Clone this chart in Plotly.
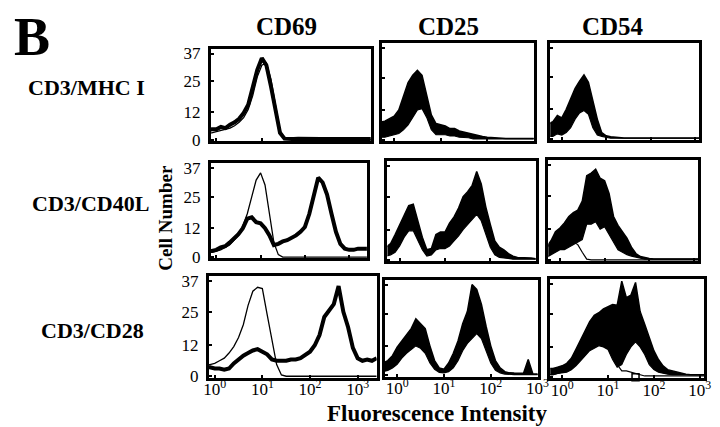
import plotly.graph_objects as go

# log10 fluorescence bins (decades)
BINS = [-0.3, -0.2, -0.1, 0.0, 0.1, 0.2, 0.3, 0.4, 0.5, 0.6, 0.7, 0.8, 0.9,
        1.0, 1.1, 1.2, 1.3, 1.4, 1.5, 1.6, 1.7, 1.8, 1.9, 2.0, 2.1, 2.2,
        2.3, 2.4, 2.5, 2.6, 2.7, 2.8, 2.9, 3.0, 3.1, 3.2, 3.3, 3.4]

COLUMNS = ["CD69", "CD25", "CD54"]
ROWS = ["CD3/MHC I", "CD3/CD40L", "CD3/CD28"]
Y_TICKS = [0, 12, 25, 37]
X_TICKS = ["10<sup>0</sup>", "10<sup>1</sup>", "10<sup>2</sup>", "10<sup>3</sup>"]

# ---- CD69 column: stimulated (thick) and control (thin) ----
CD69_MHC_STIM = [4, 4, 4.5, 4.5, 5.5, 5, 6.5, 7.5, 9, 11.5, 15, 22, 30, 35, 32, 23, 12, 3, 0.5,
                 0.3, 0.3, 0.4, 0.3, 0.3, 0.3, 0.4, 0.3, 0.3, 0.3, 0.3, 0.3, 0.3, 0.3, 0.3, 0.3, 0.3, 0.3, 0.3]
CD69_MHC_CTRL = [3, 3, 3, 3.5, 4, 4.5, 5, 6, 7.5, 9.5, 13, 19, 27, 32, 33, 26, 14, 4, 0.5,
                 0.2, 0.2, 0.2, 0.2, 0.2, 0.2, 0.2, 0.2, 0.2, 0.2, 0.2, 0.2, 0.2, 0.2, 0.2, 0.2, 0.2, 0.2, 0.2]
CD69_CD40L_STIM = [2, 2.5, 2.5, 3, 4, 4.5, 6, 7.5, 9.5, 12, 16, 16.5, 14.5, 14, 12, 9, 5, 5.5, 6.5,
                   7, 8, 9, 10.5, 12.5, 18, 26, 33, 31, 26, 18, 10.5, 5.5, 3.5, 3, 3, 3.5, 3.5, 3.5]
CD69_CD40L_CTRL = [2, 2, 2, 2.5, 3, 4, 5, 7, 9, 13, 18, 25, 32, 35, 30, 18, 6, 1, 0,
                   0, 0, 0, 0, 0, 0, 0, 0, 0, 0, 0, 0, 0, 0, 0, 0, 0, 0, 0]
CD69_CD28_STIM = [3.5, 3.5, 3.5, 3, 3, 2.5, 3, 5, 6.5, 8, 9, 10, 10.5, 9.5, 8.5, 6.5, 6, 6, 6,
                  6.5, 6.5, 7, 8.5, 9.5, 12, 16, 23, 25.5, 28, 35, 25, 19, 11, 7, 6, 6.5, 6, 7]
CD69_CD28_CTRL = [4, 4.5, 4.5, 5, 6, 7, 9, 11.5, 15, 20, 27.5, 33, 34.5, 34, 24, 14, 4.5, 0.5, 0,
                  0, 0, 0, 0, 0, 0, 0, 0, 0, 0, 0, 0, 0, 0, 0, 0, 0, 0, 0]

# ---- CD25 / CD54 columns: stimulated histograms drawn as noisy bands (upper / lower envelope) ----
CD25_MHC_HI = [7, 7.5, 8.5, 9.5, 12, 18, 23, 26, 28, 26, 18, 10, 6.5, 6, 5.5, 4.5, 4.5, 3.5, 3,
               2.5, 2, 1.5, 1.3, 1, 0.8, 0.6, 0.5, 0.5, 0.5, 0.5, 0.5, 0.5, 0.5, 0.5, 0.5, 0.5, 0.5, 0.5]
CD25_MHC_LO = [1, 1, 1.5, 2, 2.5, 4, 6, 9, 12, 12.5, 9, 4, 2, 2, 2, 1.5, 1.5, 1, 1,
               0.8, 0.3, 0.3, 0.3, 0.3, 0.3, 0.3, 0.3, 0.3, 0.3, 0.3, 0.3, 0.3, 0.3, 0.3, 0.3, 0.3, 0.3, 0.3]
CD54_MHC_HI = [6, 7, 9.5, 8.5, 12, 16, 20.5, 23.5, 26, 23, 16, 8, 2.5, 1.2, 0.8, 0.6, 0.5, 0.3, 0.3,
               0.3, 0.3, 0.3, 0.3, 0.3, 0.3, 0.3, 0.3, 0.3, 0.3, 0.3, 0.3, 0.3, 0.3, 0.3, 0.3, 0.3, 0.3, 0.3]
CD54_MHC_LO = [1, 1, 2, 1.5, 2.5, 4.5, 8, 10.5, 11.5, 10, 4.5, 1.5, 1, 0.6, 0.2, 0.2, 0.2, 0.2, 0.2,
               0.2, 0.2, 0.2, 0.2, 0.2, 0.2, 0.2, 0.2, 0.2, 0.2, 0.2, 0.2, 0.2, 0.2, 0.2, 0.2, 0.2, 0.2, 0.2]

CD25_CD40L_HI = [5, 6.5, 10, 14, 18, 21.5, 22, 15, 9, 4, 4.5, 10, 11, 11, 14.5, 17, 20.5, 25, 27,
                 29.5, 35, 30, 21, 14, 7.5, 5, 4, 2.5, 1.5, 1, 1, 1, 0.8, 0.5, 0.5, 0.5, 0.5, 0.5]
CD25_CD40L_LO = [1.5, 2, 3, 5.5, 9, 11.5, 11.5, 8, 4, 1.5, 2, 4, 4.5, 4.5, 5.5, 7.5, 9.5, 12, 14,
                 16, 18, 15.5, 10, 5, 2, 1, 0.8, 0.5, 0.3, 0.3, 0.3, 0.3, 0.3, 0.3, 0.3, 0.3, 0.3, 0.3]
CD54_CD40L_HI = [5, 7.5, 11, 12.5, 14.5, 17, 18.5, 19.5, 23, 33, 34, 35.5, 32, 31, 26, 17, 13.5, 11, 8.5,
                 5, 2.5, 1.3, 0.8, 0.6, 0.4, 0.4, 0.4, 0.4, 0.4, 0.4, 0.4, 0.4, 0.4, 0.4, 0.4, 0.4, 0.4, 0.4]
CD54_CD40L_LO = [1, 2, 3, 4, 4, 5, 6, 7, 8, 14, 14, 15, 12, 13, 10, 7, 4, 3, 2,
                 1.5, 1, 0.6, 0.3, 0.3, 0.3, 0.3, 0.3, 0.3, 0.3, 0.3, 0.3, 0.3, 0.3, 0.3, 0.3, 0.3, 0.3, 0.3]
CD54_CD40L_CTRL = [5, 6, 7, 7.5, 8, 8, 7, 6, 3, 0.3, 0, 0, 0, 0, 0, 0, 0, 0, 0,
                   0, 0, 0, 0, 0, 0, 0, 0, 0, 0, 0, 0, 0, 0, 0, 0, 0, 0, 0]

CD25_CD28_HI = [5, 6, 8, 11.5, 14, 16.5, 19, 23, 21, 19, 12, 6, 3, 2.5, 5, 9, 14, 21, 26,
                37, 35, 29, 20, 12, 6, 3, 1.5, 1, 0.9, 0.8, 0.8, 6.5, 0.5, 0.5, 0.5, 0.5, 0.5, 0.5]
CD25_CD28_LO = [1.5, 2, 3, 4.5, 7, 9, 10.5, 12, 11, 9, 5, 2.5, 1.2, 1, 1.5, 3, 6, 10, 13,
                15, 17, 15, 10, 5, 2, 1, 0.5, 0.3, 0.3, 0.3, 0.3, 0.3, 0.3, 0.3, 0.3, 0.3, 0.3, 0.3]
CD54_CD28_HI = [3.5, 3.5, 4, 4.5, 5.5, 7.5, 11, 14.5, 18, 22, 24.5, 25.5, 27, 28, 28.8, 28.5, 38, 31.5, 32.5,
                37.5, 26, 21, 15.5, 10.5, 7, 4.5, 3, 2.5, 2, 1.5, 1.2, 1, 1, 1, 1, 1, 1, 1]
CD54_CD28_LO = [1, 1, 1.5, 1.8, 2, 3, 4.5, 6.5, 8.5, 10.5, 11.5, 12.5, 12, 11, 7, 4, 5, 9, 12,
                14, 12, 9, 5, 3, 2, 1.5, 1.2, 1, 1, 1, 1, 1, 1, 1, 1, 1, 1, 1]
CD54_CD28_CTRL = [1, 1, 1.5, 2, 2.5, 3.5, 5, 7, 9, 11, 13, 14.5, 15, 14, 11, 5, 2.5, 2.5, 2,
                  1.5, 0.8, 0.5, 0.5, 0.5, 0.5, 0.5, 0.5, 0.5, 0.5, 0.5, 0.5, 0.5, 0.5, 0.5, 0.5, 0.5, 0.5, 0.5]
CD54_CD28_GATE = [1.6]  # small open square marker on the baseline

# ---------------- layout geometry (pixels in a 720x427 canvas) ----------------
W, H = 720, 427
X_RANGES = {"CD69": [-0.12, 3.4], "CD25": [-0.27, 3.0], "CD54": [-0.26, 3.1]}
BOXES = {  # (left, right, top, bottom)
    (0, 0): (202, 366, 38, 133), (0, 1): (377, 533, 32, 133), (0, 2): (550, 703, 32, 132),
    (1, 0): (202, 362, 156, 254), (1, 1): (383, 535, 154, 257), (1, 2): (548, 702, 153, 257),
    (2, 0): (200, 372, 272, 377), (2, 1): (380, 537, 276, 376), (2, 2): (550, 708, 275, 378),
}

LINES = {
    (0, 0): ("line", CD69_MHC_STIM, CD69_MHC_CTRL),
    (1, 0): ("line", CD69_CD40L_STIM, CD69_CD40L_CTRL),
    (2, 0): ("line", CD69_CD28_STIM, CD69_CD28_CTRL),
    (0, 1): ("band", CD25_MHC_HI, CD25_MHC_LO, None),
    (1, 1): ("band", CD25_CD40L_HI, CD25_CD40L_LO, None),
    (2, 1): ("band", CD25_CD28_HI, CD25_CD28_LO, None),
    (0, 2): ("band", CD54_MHC_HI, CD54_MHC_LO, None),
    (1, 2): ("band", CD54_CD40L_HI, CD54_CD40L_LO, CD54_CD40L_CTRL),
    (2, 2): ("band", CD54_CD28_HI, CD54_CD28_LO, CD54_CD28_CTRL),
}

FONT = "Liberation Serif"
fig = go.Figure()
layout = dict(width=W, height=H, margin=dict(l=0, r=0, t=0, b=0),
              paper_bgcolor="white", plot_bgcolor="white", showlegend=False)

xs = [10 ** b for b in BINS]
n = 0
for r in range(3):
    for c in range(3):
        n += 1
        sfx = "" if n == 1 else str(n)
        xa, ya = "x" + sfx, "y" + sfx
        l, rr, t, b = BOXES[(r, c)]
        spec = LINES[(r, c)]
        if spec[0] == "line":
            fig.add_trace(go.Scatter(x=xs, y=spec[2], mode="lines", xaxis=xa, yaxis=ya,
                                     line=dict(color="black", width=1.3)))
            fig.add_trace(go.Scatter(x=xs, y=spec[1], mode="lines", xaxis=xa, yaxis=ya,
                                     line=dict(color="black", width=4)))
        else:
            fig.add_trace(go.Scatter(x=xs, y=spec[2], mode="lines", xaxis=xa, yaxis=ya,
                                     line=dict(color="black", width=1.2)))
            fig.add_trace(go.Scatter(x=xs, y=spec[1], mode="lines", xaxis=xa, yaxis=ya,
                                     fill="tonexty", fillcolor="black",
                                     line=dict(color="black", width=1.5)))
            if spec[3] is not None:
                fig.add_trace(go.Scatter(x=xs, y=spec[3], mode="lines", xaxis=xa, yaxis=ya,
                                         line=dict(color="black", width=1.2)))
        layout["xaxis" + sfx] = dict(
            type="log", range=X_RANGES[COLUMNS[c]], domain=[l / W, rr / W],
            anchor=ya, showline=True, mirror=True, linecolor="black", linewidth=3,
            showgrid=False, zeroline=False, ticks="inside", ticklen=3, tickwidth=1.5,
            tickcolor="black", tickvals=[1, 10, 100, 1000], ticktext=X_TICKS,
            showticklabels=(r == 2), ticklabelstandoff=-6,
            tickfont=dict(family=FONT, size=17, color="black"))
        layout["yaxis" + sfx] = dict(
            range=[-0.5, 39], domain=[1 - b / H, 1 - t / H],
            anchor=xa, showline=True, mirror=True, linecolor="black", linewidth=3,
            showgrid=False, zeroline=False, ticks="inside", ticklen=3, tickwidth=1.5,
            tickcolor="black", tickvals=Y_TICKS, showticklabels=(c == 0),
            ticklabelstandoff=4, tickfont=dict(family=FONT, size=17, color="black"))

# gate marker in CD3/CD28 - CD54 panel
fig.add_trace(go.Scatter(x=[10 ** v for v in CD54_CD28_GATE], y=[0] * len(CD54_CD28_GATE),
                         mode="markers", xaxis="x9", yaxis="y9", cliponaxis=False,
                         marker=dict(symbol="square-open", size=7, color="black",
                                     line=dict(width=1.5, color="black"))))

fig.update_layout(**layout)

def ann(text, px, py, size, angle=0):
    fig.add_annotation(text=text, x=px / W, y=1 - py / H, xref="paper", yref="paper",
                       showarrow=False, textangle=angle, xanchor="center", yanchor="middle",
                       font=dict(family=FONT, size=size, color="black"))

ann("<b>B</b>", 18, 26, 54)
for name, cx in zip(COLUMNS, [279, 446, 614]):
    ann("<b>%s</b>" % name, cx, 15, 25)
for name, (cx, cy) in zip(ROWS, [(74, 78), (78, 198), (80, 328)]):
    ann("<b>%s</b>" % name, cx, cy, 22)
ann("<b>Cell Number</b>", 155, 212, 19, angle=-90)
ann("<b>Fluorescence Intensity</b>", 434, 414, 23)

fig.write_html("out.html")
